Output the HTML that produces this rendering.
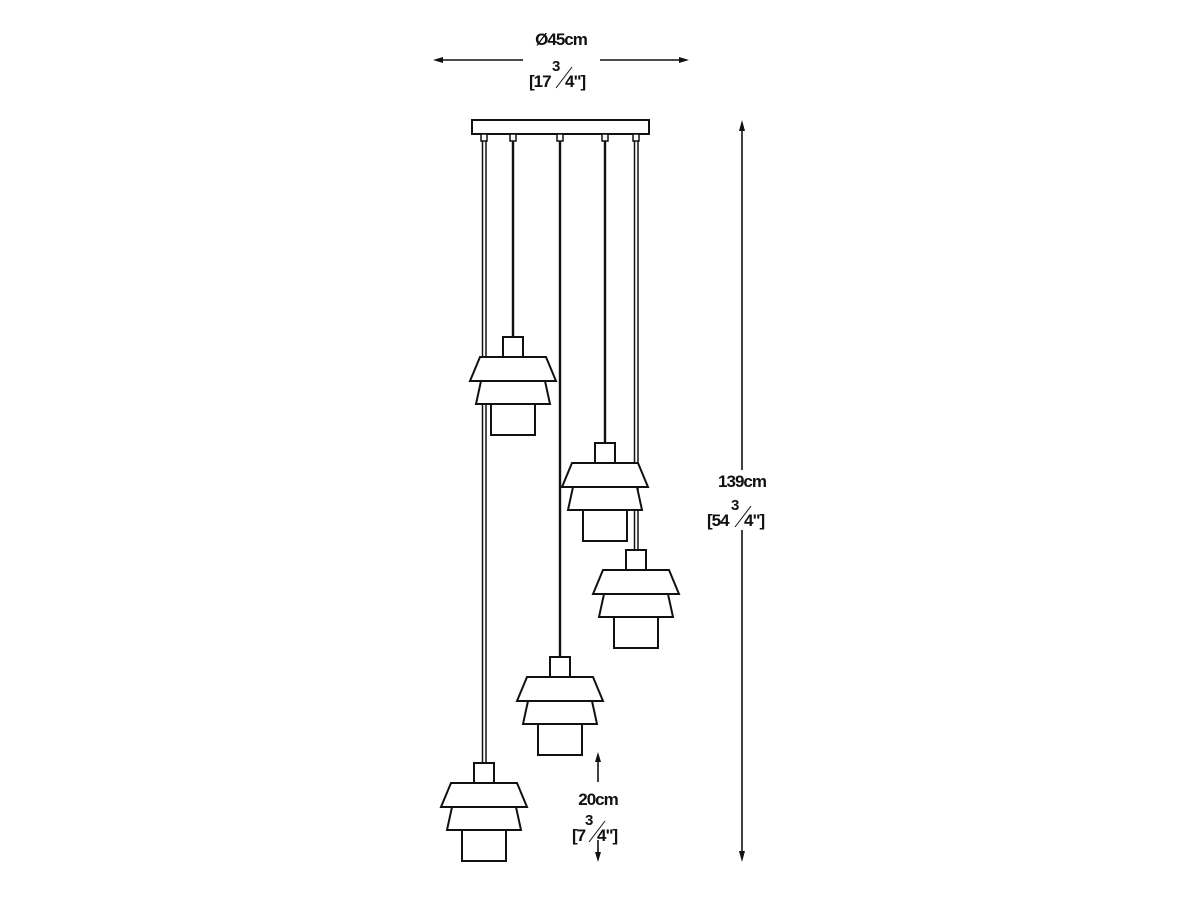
<!DOCTYPE html>
<html><head><style>body{margin:0;background:#fff}svg{display:block}</style></head><body>
<svg width="1200" height="900" viewBox="0 0 1200 900" xmlns="http://www.w3.org/2000/svg">
<defs>
<g id="p" fill="#fff" stroke="#111" stroke-width="2">
<rect x="-10" y="0" width="20" height="20"/>
<polygon points="-32,44 32,44 37,67 -37,67"/>
<polygon points="-33,20 33,20 43,44 -43,44"/>
<rect x="-22" y="67" width="44" height="31"/>
</g>
</defs>
<g stroke="#111" fill="none">
<rect x="472" y="120" width="177" height="14" stroke-width="2" fill="#fff"/>
<g stroke-width="1.5" fill="#fff">
<rect x="481" y="134" width="6" height="7"/><rect x="510" y="134" width="6" height="7"/>
<rect x="557" y="134" width="6" height="7"/><rect x="602" y="134" width="6" height="7"/>
<rect x="633" y="134" width="6" height="7"/>
</g>
<line x1="482.5" y1="141" x2="482.5" y2="763" stroke-width="1.5"/>
<line x1="486" y1="141" x2="486" y2="763" stroke-width="1.5"/>
<line x1="513" y1="141" x2="513" y2="337" stroke-width="2.4"/>
<line x1="560" y1="141" x2="560" y2="657" stroke-width="2.4"/>
<line x1="605" y1="141" x2="605" y2="443" stroke-width="2.4"/>
<line x1="634.5" y1="141" x2="634.5" y2="550" stroke-width="1.5"/>
<line x1="638" y1="141" x2="638" y2="550" stroke-width="1.5"/>
</g>
<use href="#p" x="513" y="337"/>
<use href="#p" x="605" y="443"/>
<use href="#p" x="636" y="550"/>
<use href="#p" x="560" y="657"/>
<use href="#p" x="484" y="763"/>
<g stroke="#111" stroke-width="1.6" fill="#111">
<line x1="436" y1="60" x2="523" y2="60"/><line x1="600" y1="60" x2="686" y2="60"/>
<polygon points="433,60 443,57 443,63" stroke="none"/><polygon points="689,60 679,57 679,63" stroke="none"/>
<line x1="742" y1="125" x2="742" y2="470"/><line x1="742" y1="530" x2="742" y2="858"/>
<polygon points="742,120 739,131 745,131" stroke="none"/><polygon points="742,862 739,851 745,851" stroke="none"/>
<line x1="598" y1="756" x2="598" y2="782"/><line x1="598" y1="840" x2="598" y2="858"/>
<polygon points="598,752 595,762 601,762" stroke="none"/><polygon points="598,862 595,852 601,852" stroke="none"/>
</g>
<g font-family="Liberation Sans, sans-serif" font-weight="bold" fill="#111" font-size="17">
<text x="561" y="45" text-anchor="middle" letter-spacing="-1">Ø45cm</text>
<text x="529" y="87" letter-spacing="-1">[17</text><text x="552" y="71" font-size="15">3</text>
<line x1="556" y1="88" x2="572" y2="67" stroke="#111" stroke-width="1"/>
<text x="565" y="87" letter-spacing="-1">4"]</text>
<text x="742" y="487" text-anchor="middle" letter-spacing="-1">139cm</text>
<text x="707" y="526" letter-spacing="-1">[54</text><text x="731" y="510" font-size="15">3</text>
<line x1="735" y1="527" x2="751" y2="506" stroke="#111" stroke-width="1"/>
<text x="744" y="526" letter-spacing="-1">4"]</text>
<text x="598" y="805" text-anchor="middle" letter-spacing="-1">20cm</text>
<text x="572" y="841" letter-spacing="-1">[7</text><text x="585" y="825" font-size="15">3</text>
<line x1="589" y1="842" x2="605" y2="821" stroke="#111" stroke-width="1"/>
<text x="597" y="841" letter-spacing="-1">4"]</text>
</g>
</svg>
</body></html>
